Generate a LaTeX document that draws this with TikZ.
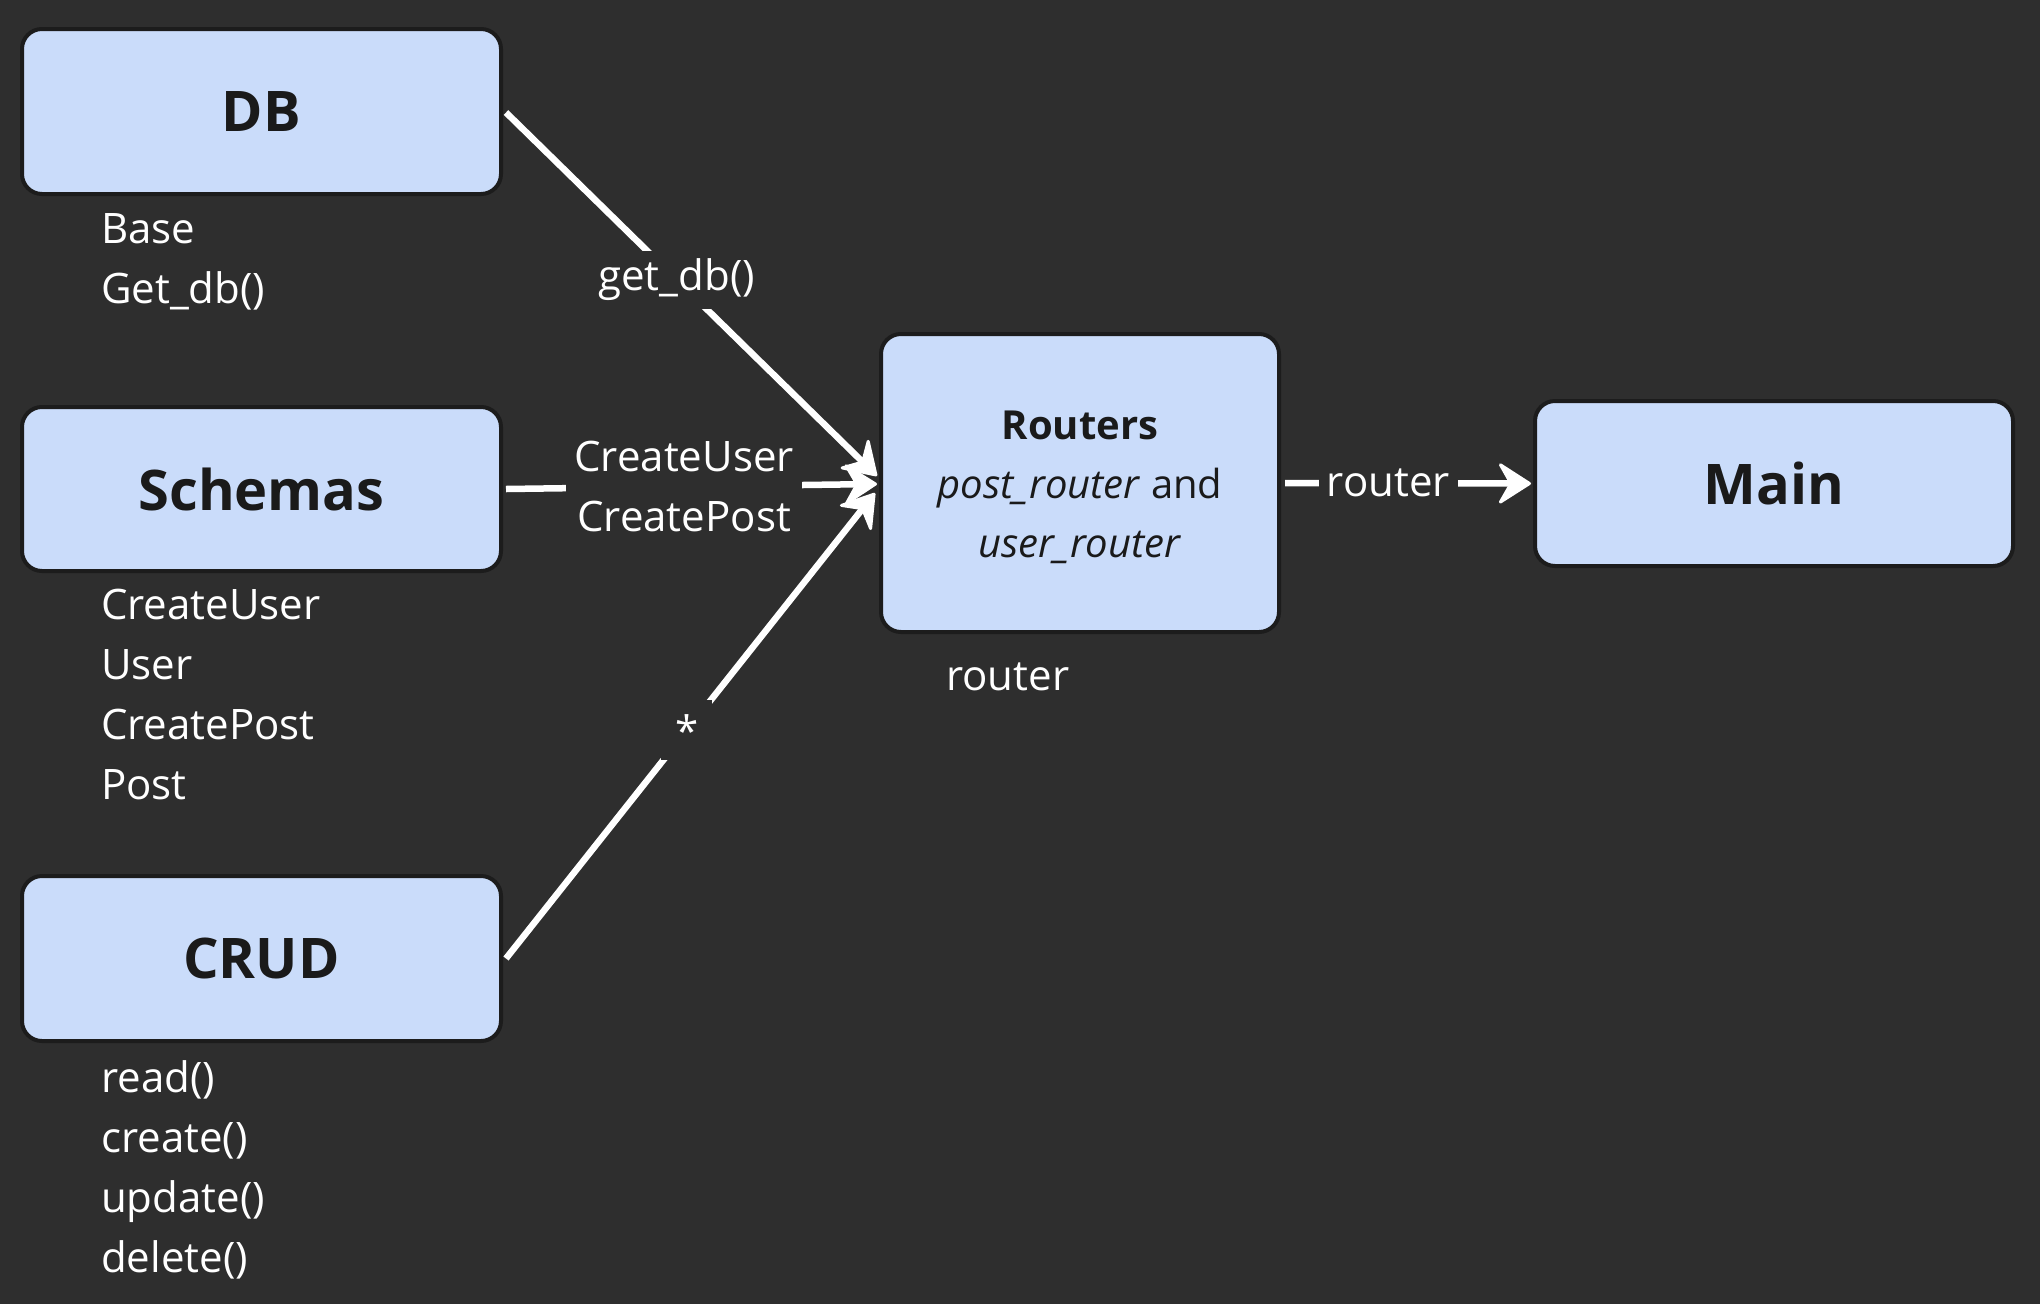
\documentclass[tikz,border=0pt]{standalone}
\usepackage{fontspec}
\setmainfont{Open Sans}
\usetikzlibrary{arrows.meta,calc}
\definecolor{bgc}{HTML}{2E2E2E}
\definecolor{boxfill}{HTML}{CADCFA}
\definecolor{boxline}{HTML}{1C1C1C}
\definecolor{ink}{HTML}{1A1A1A}
\tikzset{
  box/.style={draw=boxline, line width=4pt, fill=boxfill, rounded corners=20pt, text=ink, inner sep=0pt},
  bigtitle/.style={font=\fontsize{56}{60}\selectfont\bfseries},
  listtext/.style={text=white, font=\fontsize{42}{60}\selectfont, align=left, anchor=north west, inner sep=0pt},
  conn/.style={draw=white, line width=6.5pt, -{Stealth[length=36pt,width=46pt,inset=13pt,round,line width=3pt]}},
  elabel/.style={fill=bgc, text=white, font=\fontsize{42}{60}\selectfont, align=center, inner sep=8pt},
}
\begin{document}
\begin{tikzpicture}[x=1pt,y=-1pt]
\fill[bgc] (0,0) rectangle (2040,1304);
\useasboundingbox (0,0) rectangle (2040,1304);

\node[box, bigtitle, minimum width=479pt, minimum height=165pt] (db) at (261.5,111.5) {DB};
\node[box, bigtitle, minimum width=479pt, minimum height=164pt] (sch) at (261.5,489) {Schemas};
\node[box, bigtitle, minimum width=479pt, minimum height=165pt] (crud) at (261.5,958.5) {CRUD};
\node[box, minimum width=398pt, minimum height=298pt] (rt) at (1080,483) {};
\node[box, bigtitle, minimum width=478pt, minimum height=165pt] (main) at (1774,483.5) {Main};

\node[text=ink, font=\fontsize{40}{59}\selectfont, align=center, anchor=north] (rtt) at (1080,407)
  {\textbf{Routers}\\\textit{post\_router} and\\\textit{user\_router}};

\node[listtext] (dbl) at (101,213) {Base\\Get\_db()};
\node[listtext] (schl) at (101,589) {CreateUser\\User\\CreatePost\\Post};
\node[listtext] (crudl) at (101,1060) {read()\\create()\\update()\\delete()};
\node[listtext] (rtl) at (946,663) {router};

\coordinate (t1) at (877,476);
\coordinate (t2) at (877,484);
\coordinate (t3) at (875,493);

\draw[conn] (db.east) ++(3,1) coordinate (s1) -- node[elabel, pos=0.46] (l1) {get\_db()} (t1);
\draw[conn] (sch.east) ++(3,0) coordinate (s2) -- node[elabel, pos=0.48] (l2) {CreateUser\\CreatePost} (t2);
\draw[conn] (crud.east) ++(3,0) coordinate (s3) -- node[elabel, pos=0.49, inner sep=14pt] (l3) {*} (t3);
\draw[conn] (rt.east) ++(4,0) coordinate (s4) -- node[elabel, pos=0.42, inner sep=8pt] (l4) {router} ($(main.west)+(-2,0)$);
\end{tikzpicture}
\end{document}
